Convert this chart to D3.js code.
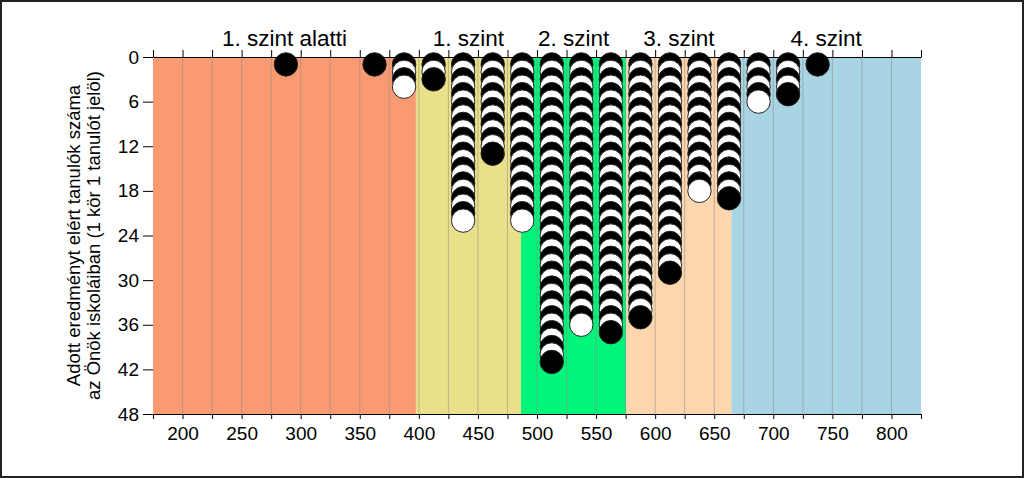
<!DOCTYPE html>
<html>
<head>
<meta charset="utf-8">
<script src="https://cdn.jsdelivr.net/npm/d3@7"></script>
<style>
  html, body { margin: 0; padding: 0; background: #fff; }
  svg { display: block; }
  text { font-family: "Liberation Sans", Arial, sans-serif; fill: #000; }
</style>
</head>
<body>
<svg id="chart" width="1024" height="478"></svg>
<script>
// ---- data ----
const binCenters = [287.5, 362.5, 387.5, 412.5, 437.5, 462.5, 487.5, 512.5, 537.5, 562.5, 587.5, 612.5, 637.5, 662.5, 687.5, 712.5, 737.5];
const counts     = [1, 1, 4, 3, 22, 13, 22, 41, 36, 37, 35, 29, 18, 19, 6, 5, 1];
const levelNames  = ["1. szint alatti", "1. szint", "2. szint", "3. szint", "4. szint"];
const levelStarts = [175, 397.5, 486.5, 575.5, 664.5];
const levelEnds   = [397.5, 486.5, 575.5, 664.5, 825];
const levelColors = ["#FA9A72", "#EBE08A", "#00F57A", "#FED6AE", "#A8D4E4"];
const xTickLabels = [200, 250, 300, 350, 400, 450, 500, 550, 600, 650, 700, 750, 800];
const yTickLabels = [0, 6, 12, 18, 24, 30, 36, 42, 48];
const yTitleLines = ["Adott eredményt elért tanulók száma", "az Önök iskoláiban (1 kör 1 tanulót jelöl)"];

// ---- layout ----
const svg = d3.select("#chart");
const W = 1024, H = 478;
const mLeft = 153, mRight = 921, mTop = 57, mBottom = 414;

const x = d3.scaleLinear().domain([175, 825]).range([mLeft, mRight]);
const y = d3.scaleLinear().domain([0, 48]).range([mTop, mBottom]);
const minorTicks = d3.range(175, 826, 25);

// outer frame
svg.append("rect").attr("x", 1).attr("y", 1).attr("width", W - 2).attr("height", H - 2)
  .attr("fill", "#fff").attr("stroke", "#222").attr("stroke-width", 2);

// level bands
svg.append("g").selectAll("rect").data(levelNames).join("rect")
  .attr("x", (d, i) => x(levelStarts[i]))
  .attr("y", mTop)
  .attr("width", (d, i) => x(levelEnds[i]) - x(levelStarts[i]))
  .attr("height", mBottom - mTop)
  .attr("fill", (d, i) => levelColors[i]);

// vertical gridlines
svg.append("g").selectAll("line").data(minorTicks.filter(v => v > 175 && v < 825)).join("line")
  .attr("x1", d => x(d)).attr("x2", d => x(d))
  .attr("y1", mTop).attr("y2", mBottom)
  .attr("stroke", "#8c8c8c").attr("stroke-opacity", 0.55).attr("stroke-width", 1);

// circles
const dots = [];
binCenters.forEach((c, i) => {
  for (let k = 1; k <= counts[i]; k++) dots.push({ c, k });
});
svg.append("g").selectAll("circle").data(dots).join("circle")
  .attr("cx", d => x(d.c))
  .attr("cy", d => y(d.k))
  .attr("r", 11.7)
  .attr("fill", d => (d.k % 2 === 1 ? "#000" : "#fff"))
  .attr("stroke", "#222").attr("stroke-width", 1);

// top axis (ticks only)
const topAxis = svg.append("g").attr("transform", `translate(0,${mTop})`)
  .call(d3.axisTop(x).tickValues(minorTicks).tickFormat("").tickSize(7).tickSizeOuter(0));
topAxis.select(".domain").attr("stroke", "#000");
topAxis.selectAll(".tick line").attr("stroke", "#000");

// bottom axis
const botAxis = svg.append("g").attr("transform", `translate(0,${mBottom})`)
  .call(d3.axisBottom(x).tickValues(minorTicks).tickFormat("").tickSize(5).tickSizeOuter(0));
botAxis.select(".domain").attr("stroke", "#000");
botAxis.selectAll(".tick line").attr("stroke", "#000");
const botLabels = svg.append("g").attr("transform", `translate(0,${mBottom})`)
  .call(d3.axisBottom(x).tickValues(xTickLabels).tickSize(0).tickPadding(13));
botLabels.select(".domain").remove();
botLabels.selectAll("text").style("font-size", "19px").style("font-family", '"Liberation Sans", Arial, sans-serif').attr("fill", "#000");

// left axis
const leftAxis = svg.append("g").attr("transform", `translate(${mLeft},0)`)
  .call(d3.axisLeft(y).tickValues(yTickLabels).tickSize(10).tickSizeOuter(0).tickPadding(4));
leftAxis.select(".domain").remove();
leftAxis.selectAll(".tick line").attr("stroke", "#000");
leftAxis.selectAll("text").style("font-size", "19px").style("font-family", '"Liberation Sans", Arial, sans-serif').attr("fill", "#000");

// level labels
svg.append("g").selectAll("text").data(levelNames).join("text")
  .attr("x", (d, i) => x((levelStarts[i] + levelEnds[i]) / 2))
  .attr("y", 46)
  .attr("text-anchor", "middle")
  .style("font-size", "22.5px")
  .text(d => d);

// y title
const yt = svg.append("text")
  .attr("transform", `translate(80,${(mTop + mBottom) / 2}) rotate(-90)`)
  .attr("text-anchor", "middle")
  .style("font-size", "18.5px");
yt.selectAll("tspan").data(yTitleLines).join("tspan")
  .attr("x", 0).attr("dy", (d, i) => i === 0 ? 0 : 19.5)
  .text(d => d);
</script>
</body>
</html>
